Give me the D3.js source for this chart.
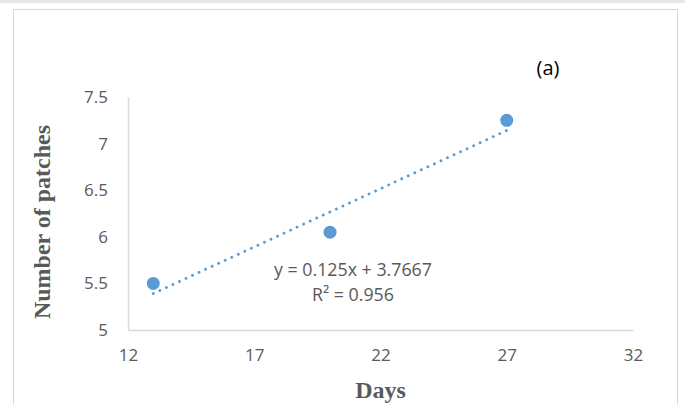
<!DOCTYPE html>
<html>
<head>
<meta charset="utf-8">
<script src="https://cdn.jsdelivr.net/npm/d3@7"></script>
<style>
  html, body { margin: 0; padding: 0; background: #fff; }
  svg { display: block; }
</style>
</head>
<body>
<div id="chart"></div>
<script>
// Data
const days = [13, 20, 27];
const patches = [5.5, 6.05, 7.25];
const xTicks = [12, 17, 22, 27, 32];
const yTicks = [5, 5.5, 6, 6.5, 7, 7.5];
const trendSlope = 0.125;
const trendIntercept = 3.7667;
const equationLines = ['y = 0.125x + 3.7667', 'R² = 0.956'];

const W = 685, H = 405;
const margin = { top: 97, right: 52, bottom: 75, left: 128 };
const width = W - margin.left - margin.right;
const height = H - margin.top - margin.bottom;
const labelFont = '"Open Sans", "Liberation Sans", sans-serif';
const titleFont = '"Liberation Serif", "Times New Roman", serif';

const svg = d3.select('#chart').append('svg')
    .attr('width', W)
    .attr('height', H);

// page strip and chart frame
svg.append('rect')
    .attr('x', 0).attr('y', 0).attr('width', W).attr('height', 3)
    .attr('fill', '#e7e7e7');
svg.append('rect')
    .attr('x', 13.5).attr('y', 9.5).attr('width', 664).attr('height', 400)
    .attr('fill', '#fff').attr('stroke', '#d9d9d9').attr('stroke-width', 1);

const g = svg.append('g')
    .attr('transform', `translate(${margin.left},${margin.top})`);

const x = d3.scaleLinear().domain([12, 32]).range([0, width]);
const y = d3.scaleLinear().domain([5, 7.5]).range([height, 0]);

// Axes
const xAxis = g.append('g')
    .attr('transform', `translate(0,${height})`)
    .call(d3.axisBottom(x).tickValues(xTicks).tickSize(0).tickPadding(19));
const yAxis = g.append('g')
    .call(d3.axisLeft(y).tickValues(yTicks).tickSize(0).tickPadding(20)
        .tickFormat(d3.format('')));

[xAxis, yAxis].forEach(a => {
    a.attr('font-size', null).attr('font-family', null);
    a.select('.domain').attr('stroke', '#d9d9d9').attr('stroke-width', 1.5);
    a.selectAll('text')
        .attr('fill', '#595959')
        .style('font-family', labelFont)
        .style('font-size', '17px');
});

// Trendline (linear fit)
const fit = d => trendSlope * d + trendIntercept;
const xMin = d3.min(days), xMax = d3.max(days);
g.append('line')
    .attr('x1', x(xMin)).attr('y1', y(fit(xMin)))
    .attr('x2', x(xMax)).attr('y2', y(fit(xMax)))
    .attr('stroke', '#5b9bd5')
    .attr('stroke-width', 2.8)
    .attr('stroke-linecap', 'round')
    .attr('stroke-dasharray', '0.1,7.1');

// Points
g.selectAll('.pt')
    .data(days.map((d, i) => ({ d, v: patches[i] })))
    .enter()
    .append('circle')
    .attr('class', 'pt')
    .attr('cx', p => x(p.d))
    .attr('cy', p => y(p.v))
    .attr('r', 6.5)
    .attr('fill', '#5b9bd5');

// Equation label
g.append('text')
    .attr('x', x(20.91))
    .attr('y', y(5.58))
    .attr('text-anchor', 'middle')
    .attr('fill', '#595959')
    .style('font-family', labelFont)
    .style('font-size', '17.8px')
    .selectAll('tspan')
    .data(equationLines)
    .enter()
    .append('tspan')
    .attr('x', x(20.91))
    .attr('dy', (d, i) => i === 0 ? 0 : 25)
    .text(d => d);

// Panel label
svg.append('text')
    .attr('x', 548).attr('y', 75)
    .attr('text-anchor', 'middle')
    .attr('fill', '#000')
    .style('font-family', labelFont)
    .style('font-size', '20px')
    .text('(a)');

// Axis titles
svg.append('text')
    .attr('x', margin.left + x(22))
    .attr('y', 398)
    .attr('text-anchor', 'middle')
    .attr('fill', '#595959')
    .style('font-family', titleFont)
    .style('font-weight', 'bold')
    .style('font-size', '24px')
    .text('Days');

svg.append('text')
    .attr('transform', 'translate(50,222) rotate(-90)')
    .attr('text-anchor', 'middle')
    .attr('fill', '#595959')
    .style('font-family', titleFont)
    .style('font-weight', 'bold')
    .style('font-size', '24px')
    .text('Number of patches');
</script>
</body>
</html>
